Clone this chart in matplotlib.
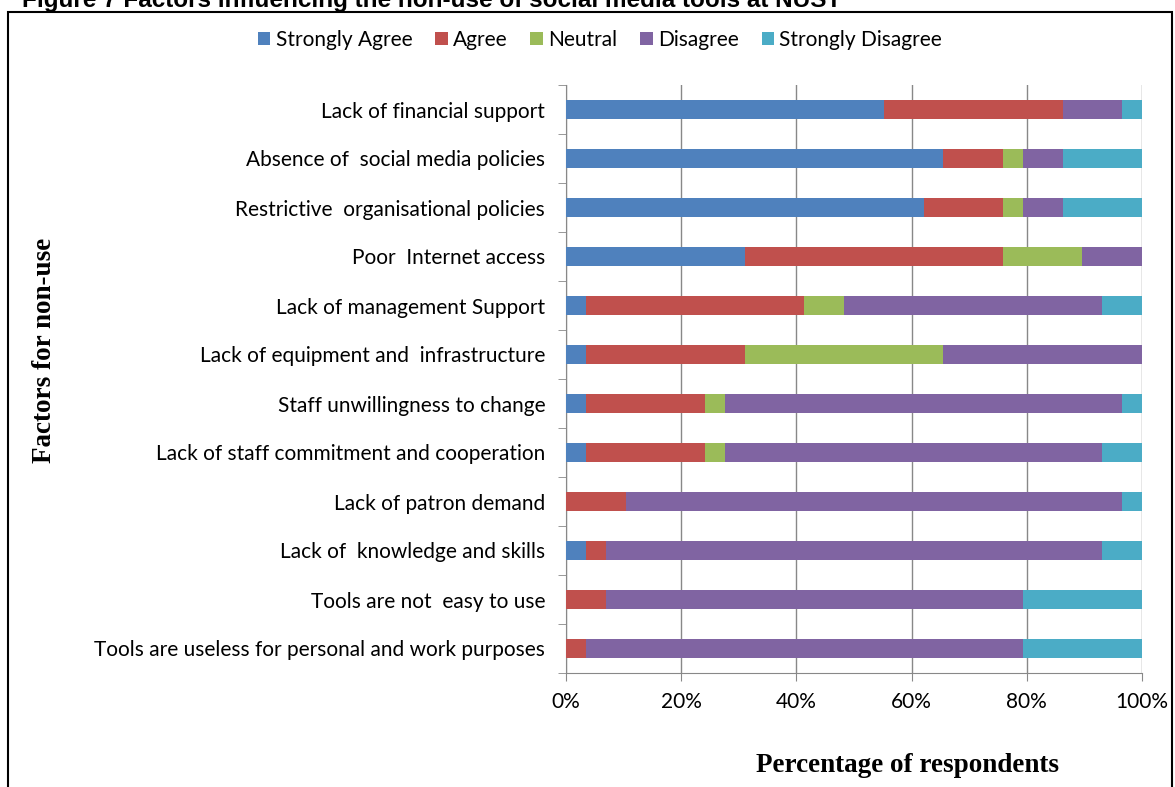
import matplotlib
matplotlib.use("Agg")
import matplotlib.pyplot as plt
from matplotlib.patches import Rectangle
import numpy as np

# counts of respondents (n = 29) per factor, top to bottom
factors = ["Lack of financial support",
           "Absence of  social media policies",
           "Restrictive  organisational policies",
           "Poor  Internet access",
           "Lack of management Support",
           "Lack of equipment and  infrastructure",
           "Staff unwillingness to change",
           "Lack of staff commitment and cooperation",
           "Lack of patron demand",
           "Lack of  knowledge and skills",
           "Tools are not  easy to use",
           "Tools are useless for personal and work purposes"]
strongly_agree = [16, 19, 18, 9, 1, 1, 1, 1, 0, 1, 0, 0]
agree = [9, 3, 4, 13, 11, 8, 6, 6, 3, 1, 2, 1]
neutral = [0, 1, 1, 4, 2, 10, 1, 1, 0, 0, 0, 0]
disagree = [3, 2, 2, 3, 13, 10, 20, 19, 25, 25, 21, 22]
strongly_disagree = [1, 4, 4, 0, 2, 0, 1, 2, 1, 2, 6, 6]

series = ["Strongly Agree", "Agree", "Neutral", "Disagree", "Strongly Disagree"]
colors = ["#4F81BD", "#C0504D", "#9BBB59", "#8064A2", "#4BACC6"]

data = np.array([strongly_agree, agree, neutral, disagree, strongly_disagree], dtype=float)
pct = data / data.sum(axis=0) * 100

fig = plt.figure(figsize=(11.75, 7.87), dpi=100)
ax = fig.add_axes([566/1175, 1-673/787, (1142-566)/1175, (673-85)/787])

y = np.arange(len(factors))
left = np.zeros(len(factors))
handles = []
for i in range(len(series)):
    h = ax.barh(y, pct[i], left=left, height=0.4, color=colors[i], label=series[i], zorder=3)
    handles.append(h)
    left += pct[i]

ax.set_xlim(0, 100)
ax.set_ylim(len(factors) - 0.5, -0.5)
ax.set_xticks(np.arange(0, 101, 20))
ax.set_xticklabels([f"{v}%" for v in range(0, 101, 20)], family="Lato", fontsize=15)
ax.set_yticks(y)
ax.set_yticklabels(factors, family="Lato", fontsize=15)
ax.set_yticks(np.arange(-0.5, len(factors), 1), minor=True)
ax.tick_params(axis="y", which="major", length=0, pad=15)
ax.tick_params(axis="y", which="minor", length=6, color="#888888")
ax.tick_params(axis="x", length=6, color="#888888", pad=8)
ax.grid(axis="x", color="#888888", linewidth=1, zorder=0)
for s in ["top", "right"]:
    ax.spines[s].set_visible(False)
ax.spines["left"].set_color("#888888")
ax.spines["bottom"].set_color("#888888")

fig.legend(handles=handles, loc="center", bbox_to_anchor=(600/1175, 1-40/787), ncol=5,
           frameon=False, prop={"family": "Lato", "size": 15},
           handlelength=0.6, handleheight=0.6, handletextpad=0.25, columnspacing=1.1)

fig.text(45/1175, 1-350/787, "Factors for non-use", rotation=90, ha="center", va="center",
         family="Liberation Serif", fontweight="bold", fontsize=19.5)
fig.text(908/1175, 1-766/787, "Percentage of respondents", ha="center", va="center",
         family="Liberation Serif", fontweight="bold", fontsize=19.5)
fig.text(22/1175, 1-0/787, "Figure 7 Factors influencing the non-use of social media tools at NUST",
         ha="left", va="center", family="Liberation Sans", fontweight="bold", fontsize=17.5)

fig.patches.append(Rectangle((8/1175, -0.01), (1172-8)/1175, 1-12/787 + 0.01,
                             transform=fig.transFigure, fill=False, edgecolor="black", linewidth=1.5))

fig.savefig("out.png", dpi=100)
